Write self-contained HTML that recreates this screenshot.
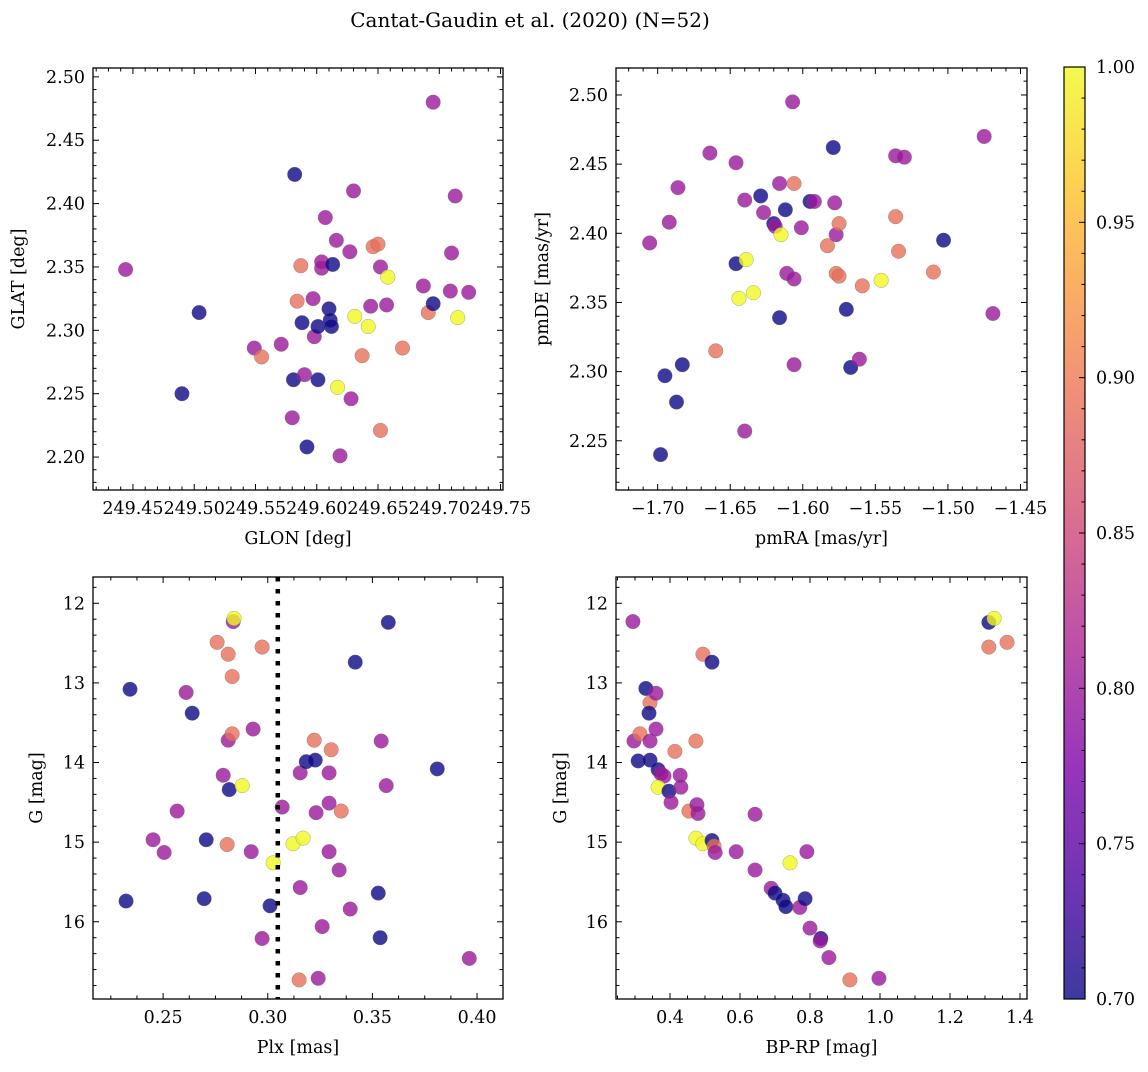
<!DOCTYPE html>
<html><head><meta charset="utf-8"><style>
body{margin:0;background:#fff;}
svg text{font-family:"DejaVu Serif","Liberation Serif",serif;fill:#000;}
</style></head><body>
<svg id="fig" width="1148" height="1067" xmlns="http://www.w3.org/2000/svg">
<defs>
<linearGradient id="plasma" x1="0" y1="1" x2="0" y2="0">
<stop offset="0" stop-color="#0d0887"/><stop offset="0.125" stop-color="#4c02a1"/><stop offset="0.25" stop-color="#7e03a8"/><stop offset="0.375" stop-color="#a92395"/><stop offset="0.5" stop-color="#cc4778"/><stop offset="0.625" stop-color="#e66c5c"/><stop offset="0.75" stop-color="#f89540"/><stop offset="0.875" stop-color="#fdc527"/><stop offset="1" stop-color="#f0f921"/>
</linearGradient>
</defs>
<text x="530" y="27" font-size="20" text-anchor="middle">Cantat-Gaudin et al. (2020) (N=52)</text>
</svg>
<script>
// Panel 1: GLON vs GLAT
const p1Lon=[249.444,249.504,249.490,249.549,249.555,249.571,249.582,249.584,249.587,249.588,249.581,249.580,249.590,249.592,249.597,249.598,249.601,249.601,249.604,249.604,249.607,249.610,249.611,249.612,249.613,249.616,249.617,249.619,249.627,249.628,249.630,249.631,249.637,249.642,249.644,249.646,249.650,249.652,249.652,249.657,249.658,249.670,249.687,249.691,249.695,249.695,249.709,249.710,249.713,249.715,249.724];
const p1Lat=[2.348,2.314,2.250,2.286,2.279,2.289,2.423,2.323,2.351,2.306,2.261,2.231,2.265,2.208,2.325,2.295,2.303,2.261,2.349,2.354,2.389,2.317,2.308,2.303,2.352,2.371,2.255,2.201,2.362,2.246,2.410,2.311,2.280,2.303,2.319,2.366,2.368,2.350,2.221,2.320,2.342,2.286,2.335,2.314,2.321,2.480,2.331,2.361,2.406,2.310,2.330];
const p1Col=[0.80,0.70,0.70,0.80,0.89,0.80,0.70,0.89,0.89,0.70,0.70,0.80,0.80,0.70,0.80,0.80,0.70,0.70,0.80,0.80,0.80,0.70,0.70,0.70,0.70,0.80,1.0,0.80,0.80,0.80,0.80,1.0,0.89,1.0,0.80,0.89,0.89,0.80,0.89,0.80,1.0,0.89,0.80,0.89,0.70,0.80,0.80,0.80,0.80,1.0,0.80];
// Panel 2: pmRA vs pmDE
const p2Ra=[-1.7055,-1.686,-1.695,-1.698,-1.692,-1.683,-1.687,-1.664,-1.660,-1.646,-1.646,-1.644,-1.640,-1.640,-1.639,-1.634,-1.629,-1.627,-1.620,-1.619,-1.616,-1.616,-1.615,-1.612,-1.611,-1.607,-1.606,-1.606,-1.606,-1.601,-1.595,-1.592,-1.583,-1.578,-1.577,-1.577,-1.575,-1.575,-1.579,-1.567,-1.570,-1.561,-1.559,-1.546,-1.536,-1.536,-1.534,-1.530,-1.510,-1.503,-1.475,-1.469];
const p2De=[2.393,2.433,2.297,2.240,2.408,2.305,2.278,2.458,2.315,2.451,2.378,2.353,2.424,2.257,2.381,2.357,2.427,2.415,2.407,2.405,2.436,2.339,2.399,2.417,2.371,2.495,2.367,2.436,2.305,2.404,2.423,2.423,2.391,2.422,2.371,2.399,2.407,2.369,2.462,2.303,2.345,2.309,2.362,2.366,2.456,2.412,2.387,2.455,2.372,2.395,2.470,2.342];
const p2Col=[0.80,0.80,0.70,0.70,0.80,0.70,0.70,0.80,0.89,0.80,0.70,1.0,0.80,0.80,1.0,1.0,0.70,0.80,0.70,0.80,0.80,0.70,1.0,0.70,0.80,0.80,0.80,0.89,0.80,0.80,0.70,0.80,0.89,0.80,0.89,0.80,0.89,0.89,0.70,0.70,0.70,0.80,0.89,1.0,0.80,0.89,0.89,0.80,0.89,0.70,0.80,0.80];
// Panel 3: Plx vs G
const p3Plx=[0.2342,0.2323,0.2452,0.2505,0.2567,0.2610,0.2639,0.2706,0.2696,0.2758,0.2787,0.2811,0.2816,0.2811,0.2830,0.2830,0.2835,0.2839,0.2806,0.2878,0.2930,0.2921,0.2973,0.2973,0.3011,0.3026,0.3069,0.3121,0.3155,0.3155,0.3169,0.3184,0.3222,0.3227,0.3231,0.3241,0.3260,0.3150,0.3293,0.3293,0.3293,0.3303,0.3341,0.3351,0.3394,0.3418,0.3528,0.3537,0.3542,0.3566,0.3576,0.3810,0.3963];
const p3G=[13.08,15.74,14.97,15.13,14.61,13.12,13.38,14.97,15.71,12.49,14.16,13.72,14.34,12.64,12.92,13.64,12.23,12.19,15.03,14.29,13.58,15.12,12.55,16.21,15.80,15.26,14.56,15.02,14.13,15.57,14.95,13.99,13.72,13.97,14.63,16.71,16.06,16.73,14.13,14.51,15.12,13.84,15.35,14.61,15.84,12.74,15.64,16.20,13.73,14.29,12.24,14.08,16.46];
const p3Col=[0.70,0.70,0.80,0.80,0.80,0.80,0.70,0.70,0.70,0.89,0.80,0.80,0.70,0.89,0.89,0.89,0.80,1.0,0.89,1.0,0.80,0.80,0.89,0.80,0.70,1.0,0.80,1.0,0.80,0.80,1.0,0.70,0.89,0.70,0.80,0.80,0.80,0.89,0.80,0.80,0.80,0.89,0.80,0.89,0.80,0.70,0.70,0.70,0.80,0.80,0.70,0.70,0.80];
const p3Mean=0.3048;
// Panel 4: BP-RP vs G
const p4Bp=[0.294,0.297,0.309,0.314,0.331,0.343,0.340,0.343,0.343,0.360,0.360,0.366,0.374,0.383,0.366,0.397,0.403,0.414,0.429,0.431,0.454,0.474,0.477,0.480,0.474,0.494,0.494,0.520,0.520,0.526,0.529,0.589,0.643,0.643,0.689,0.700,0.723,0.731,0.743,0.771,0.786,0.791,0.800,0.831,0.829,0.854,0.914,0.997,1.311,1.326,1.311,1.363];
const p4G=[12.23,13.73,13.98,13.64,13.07,13.25,13.38,13.73,13.97,13.13,13.58,14.09,14.14,14.17,14.31,14.36,14.50,13.86,14.16,14.31,14.61,13.73,14.53,14.64,14.95,15.02,12.64,12.74,14.98,15.05,15.13,15.12,14.65,15.35,15.58,15.64,15.73,15.81,15.26,15.82,15.71,15.12,16.08,16.21,16.24,16.45,16.73,16.71,12.24,12.19,12.55,12.49];
const p4Col=[0.80,0.80,0.70,0.89,0.70,0.89,0.70,0.80,0.70,0.80,0.80,0.70,0.80,0.80,1.0,0.70,0.80,0.89,0.80,0.80,0.89,0.89,0.80,0.80,1.0,1.0,0.89,0.70,0.70,0.89,0.80,0.80,0.80,0.80,0.80,0.70,0.70,0.70,1.0,0.80,0.70,0.80,0.80,0.70,0.80,0.80,0.89,0.80,0.70,1.0,0.89,0.89];
const cbTicks=[0.70,0.75,0.80,0.85,0.90,0.95,1.00];

const NS="http://www.w3.org/2000/svg";
const svg=document.getElementById('fig');
const stops=[[0,[13,8,135]],[0.125,[76,2,161]],[0.25,[126,3,168]],[0.375,[169,35,149]],[0.5,[204,71,120]],[0.625,[230,108,92]],[0.75,[248,149,64]],[0.875,[253,197,39]],[1,[240,249,33]]];
function plasma(v){let t=Math.max(0,Math.min(1,(v-0.7)/0.3));for(let i=1;i<stops.length;i++){if(t<=stops[i][0]){const a=stops[i-1],b=stops[i];const f=(t-a[0])/(b[0]-a[0]);const c=a[1].map((x,k)=>Math.round(x+(b[1][k]-x)*f));return `rgb(${c[0]},${c[1]},${c[2]})`;}}return 'rgb(240,249,33)';}
function mk(tag,attrs,parent){const e=document.createElementNS(NS,tag);for(const k in attrs)e.setAttribute(k,attrs[k]);(parent||svg).appendChild(e);return e;}
function fmt(v,d){let s=v.toFixed(d);return s.replace('-','\u2212');}
const FS=17.5;
function panel(o){
  const g=mk('g',{});
  
  
  const sx=v=>o.x0+(v-o.xmin)/(o.xmax-o.xmin)*o.w;
  const sy=o.yinv?(v=>o.y0+(v-o.ymin)/(o.ymax-o.ymin)*o.h):(v=>o.y0+o.h-(v-o.ymin)/(o.ymax-o.ymin)*o.h);
  if(o.vline!==undefined){const l=mk('line',{x1:sx(o.vline),x2:sx(o.vline),y1:o.y0,y2:o.y0+o.h,stroke:'#000','stroke-width':4.5,'stroke-dasharray':'4.5 7.5'},g);
    
    }
  for(let i=0;i<o.xs.length;i++){
    const c=mk('circle',{cx:sx(o.xs[i]),cy:sy(o.ys[i]),r:7.3,fill:plasma(o.cs[i]),'fill-opacity':0.8,stroke:'#666','stroke-width':0.4,'stroke-opacity':0.7},g);
    
    
  }
  mk('rect',{x:o.x0,y:o.y0,width:o.w,height:o.h,fill:'none',stroke:'#000','stroke-width':1.3},g);
  const eps=1e-9;
  for(let v=Math.ceil(o.xmin/o.xminor-eps)*o.xminor;v<=o.xmax+eps;v+=o.xminor){
    const isMaj=Math.abs(v/o.xmajor-Math.round(v/o.xmajor))<1e-6;const L=isMaj?6:3.5;const x=sx(v);
    mk('line',{x1:x,x2:x,y1:o.y0+o.h,y2:o.y0+o.h-L,stroke:'#000','stroke-width':1},g);
    mk('line',{x1:x,x2:x,y1:o.y0,y2:o.y0+L,stroke:'#000','stroke-width':1},g);
    if(isMaj){const t=mk('text',{x:x,y:o.y0+o.h+24,'font-size':FS,'text-anchor':'middle'},g);t.textContent=fmt(v,o.xd);
      
      }
  }
  for(let v=Math.ceil(o.ymin/o.yminor-eps)*o.yminor;v<=o.ymax+eps;v+=o.yminor){
    const isMaj=Math.abs(v/o.ymajor-Math.round(v/o.ymajor))<1e-6;const L=isMaj?6:3.5;const y=sy(v);
    mk('line',{x1:o.x0,x2:o.x0+L,y1:y,y2:y,stroke:'#000','stroke-width':1},g);
    mk('line',{x1:o.x0+o.w,x2:o.x0+o.w-L,y1:y,y2:y,stroke:'#000','stroke-width':1},g);
    if(isMaj){const t=mk('text',{x:o.x0-8,y:y+6,'font-size':FS,'text-anchor':'end'},g);t.textContent=fmt(v,o.yd);
      
      }
  }
  const xl=mk('text',{x:o.x0+o.w/2,y:o.y0+o.h+54,'font-size':FS,'text-anchor':'middle'},g);xl.textContent=o.xlabel;
  
  
  const yl=mk('text',{x:o.ylx,y:o.y0+o.h/2,'font-size':FS,'text-anchor':'middle',transform:`rotate(-90 ${o.ylx} ${o.y0+o.h/2})`},g);yl.textContent=o.ylabel;
  
  
}
panel({name:'glon-glat-panel',x0:93,y0:68,w:410,h:422,xmin:249.4174,xmax:249.752,ymin:2.174,ymax:2.507,xs:p1Lon,ys:p1Lat,cs:p1Col,xmajor:0.05,xminor:0.01,ymajor:0.05,yminor:0.01,xd:2,yd:2,xlabel:'GLON [deg]',ylabel:'GLAT [deg]',ylx:24});
panel({name:'pm-panel',x0:616,y0:68,w:411,h:422,xmin:-1.7287,xmax:-1.4455,ymin:2.2144,ymax:2.5195,xs:p2Ra,ys:p2De,cs:p2Col,xmajor:0.05,xminor:0.01,ymajor:0.05,yminor:0.01,xd:2,yd:2,xlabel:'pmRA [mas/yr]',ylabel:'pmDE [mas/yr]',ylx:548});
panel({name:'plx-g-panel',x0:93,y0:577,w:410,h:422,xmin:0.2165,xmax:0.4124,ymin:11.67,ymax:16.97,yinv:true,xs:p3Plx,ys:p3G,cs:p3Col,xmajor:0.05,xminor:0.0125,ymajor:1,yminor:0.2,xd:2,yd:0,xlabel:'Plx [mas]',ylabel:'G [mag]',ylx:42});
panel({name:'cmd-panel',x0:616,y0:577,w:411,h:422,xmin:0.2457,xmax:1.4200,ymin:11.67,ymax:16.97,yinv:true,xs:p4Bp,ys:p4G,cs:p4Col,xmajor:0.2,xminor:0.05,ymajor:1,yminor:0.2,xd:1,yd:0,xlabel:'BP-RP [mag]',ylabel:'G [mag]',ylx:566});
// dotted mean line drawn on panel 3
(function(){const x=93+(p3Mean-0.2165)/(0.4124-0.2165)*410;
  const l=mk('line',{x1:x,x2:x,y1:577,y2:999,stroke:'#000','stroke-width':4.5,'stroke-dasharray':'4.5 7.5'});
  
  })();
// colorbar
const cb=mk('g',{});


const cby0=67,cbh=932,cbx=1064,cbw=21;
mk('rect',{x:cbx,y:cby0,width:cbw,height:cbh,fill:'url(#plasma)','fill-opacity':0.8},cb);
mk('rect',{x:cbx,y:cby0,width:cbw,height:cbh,fill:'none',stroke:'#000','stroke-width':1.2},cb);
const cy=v=>cby0+cbh-(v-0.7)/0.3*cbh;
for(let v=0.70;v<=1.0001;v+=0.01){const y=cy(v);const maj=Math.abs(v*20-Math.round(v*20))<1e-6;
  mk('line',{x1:cbx+cbw,x2:cbx+cbw-(maj?6:3.5),y1:y,y2:y,stroke:'#000','stroke-width':1},cb);}
cbTicks.forEach(v=>{const t=mk('text',{x:1096,y:cy(v)+6,'font-size':FS},cb);t.textContent=v.toFixed(2);
  
  });
</script>
</body></html>
